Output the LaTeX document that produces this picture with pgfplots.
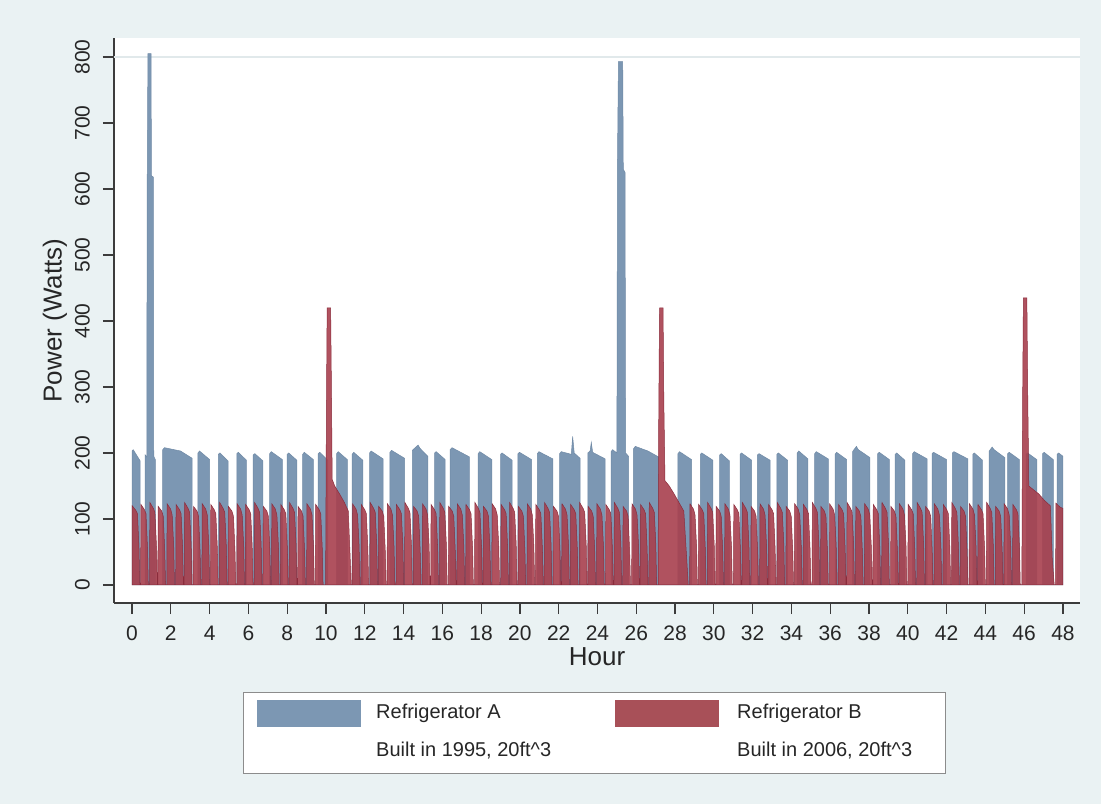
\documentclass[border=0pt]{standalone}
\usepackage{fontspec}
\setmainfont{Liberation Sans}
\usepackage{pgfplots}
\pgfplotsset{compat=1.18}
\definecolor{bgc}{RGB}{234,242,243}
\definecolor{blueA}{RGB}{124,151,179}
\definecolor{blueAe}{RGB}{112,138,166}
\definecolor{redB}{RGB}{168,64,78}
\definecolor{redBe}{RGB}{138,44,60}
\definecolor{redL}{RGB}{168,80,88}
\definecolor{axc}{RGB}{60,60,60}
\definecolor{gridc}{RGB}{225,233,235}
\begin{document}
\begin{tikzpicture}[x=1pt,y=1pt]
\useasboundingbox (0,0) rectangle (1101,804);
\fill[bgc] (0,0) rectangle (1101,804);
\begin{axis}[
  at={(114pt,201pt)}, anchor=south west,
  scale only axis, width=966pt, height=565pt,
  xmin=-0.93, xmax=48.88, ymin=-27.3, ymax=828.8,
  axis background/.style={fill=white},
  axis lines=left, axis line style={-, axc, line width=1.3pt},
  xtick={0,2,...,48}, ytick={0,100,...,800},
  tick align=outside, major tick length=11pt,
  tick style={axc, line width=1.2pt},
  /pgf/number format/assume math mode=true,
  tick label style={font=\fontsize{21}{25}\selectfont, text=black!85, inner sep=0pt},
  xticklabel style={anchor=north, yshift=-12pt},
  yticklabel style={rotate=90, anchor=south},
  yticklabel shift=13pt,
  extra y ticks={800}, extra y tick labels={},
  extra y tick style={grid=major, major grid style={gridc, line width=1.2pt}},
  xlabel={Hour}, ylabel={Power (Watts)},
  label style={font=\fontsize{26}{30}\selectfont, inner sep=0pt, text=black!85},
  xlabel style={at={(axis description cs:0.5,-0.0956)}, anchor=center},
  ylabel style={at={(axis description cs:-0.0611,0.5)}, anchor=center, rotate=0},
  clip=true,
]
% Refrigerator A
\addplot[fill=blueA, draw=blueAe, line width=0.5pt] coordinates {
(0,0)(0,203)(0.06,205)(0.42,188)(0.42,0)
(0.68,0)(0.68,197)(0.76,194)(0.78,600)(0.82,805)(0.98,805)(1.0,620)(1.1,618)(1.12,195)(1.2,190)(1.2,0)
(1.58,0)(1.58,205)(1.68,208)(2.5,203)(3.1,192)(3.1,0)
(3.4,0)(3.4,200)(3.48,203)(4.0,190)(4.0,0)
(4.45,0)(4.45,198)(4.53,200)(4.95,188)(4.95,0)
(5.4,0)(5.4,199)(5.48,201)(5.9,189)(5.9,0)
(6.25,0)(6.25,197)(6.33,199)(6.75,188)(6.75,0)
(7.1,0)(7.1,199)(7.18,202)(7.75,190)(7.75,0)
(8.0,0)(8.0,198)(8.08,200)(8.5,189)(8.5,0)
(8.8,0)(8.8,198)(8.88,201)(9.35,190)(9.35,0)
(9.6,0)(9.6,199)(9.68,201)(10.1,189)(10.1,0)
(10.55,0)(10.55,199)(10.63,202)(11.1,190)(11.1,0)
(11.35,0)(11.35,198)(11.43,201)(11.9,189)(11.9,0)
(12.25,0)(12.25,200)(12.33,203)(12.95,191)(12.95,0)
(13.3,0)(13.3,201)(13.38,204)(14.05,192)(14.05,0)
(14.45,0)(14.45,204)(14.75,212)(14.85,207)(15.25,195)(15.25,0)
(15.6,0)(15.6,200)(15.68,202)(16.15,190)(16.15,0)
(16.4,0)(16.4,205)(16.5,208)(17.4,194)(17.4,0)
(17.85,0)(17.85,199)(17.93,202)(18.55,190)(18.55,0)
(19.0,0)(19.0,198)(19.08,200)(19.6,189)(19.6,0)
(19.9,0)(19.9,199)(19.98,201)(20.6,190)(20.6,0)
(20.9,0)(20.9,199)(20.98,202)(21.7,191)(21.7,0)
(22.05,0)(22.05,199)(22.13,202)(22.65,198)(22.72,225)(22.8,200)(23.1,192)(23.1,0)
(23.5,0)(23.5,200)(23.62,203)(23.68,216)(23.75,201)(24.4,191)(24.4,0)
(24.7,0)(24.7,202)(24.78,205)(25.0,200)(25.03,640)(25.08,793)(25.3,793)(25.33,630)(25.42,625)(25.45,200)(25.6,195)(25.6,0)
(25.85,0)(25.85,206)(25.95,210)(26.6,203)(27.15,194)(27.15,0)
(28.15,0)(28.15,199)(28.23,202)(28.85,190)(28.85,0)
(29.3,0)(29.3,198)(29.38,200)(29.95,189)(29.95,0)
(30.3,0)(30.3,197)(30.38,199)(30.8,188)(30.8,0)
(31.35,0)(31.35,198)(31.43,200)(31.95,189)(31.95,0)
(32.25,0)(32.25,197)(32.33,199)(32.9,189)(32.9,0)
(33.25,0)(33.25,198)(33.33,200)(33.8,189)(33.8,0)
(34.3,0)(34.3,200)(34.38,203)(34.85,191)(34.85,0)
(35.2,0)(35.2,199)(35.28,202)(35.9,191)(35.9,0)
(36.25,0)(36.25,198)(36.33,201)(36.85,190)(36.85,0)
(37.15,0)(37.15,202)(37.35,210)(37.45,205)(38.05,193)(38.05,0)
(38.45,0)(38.45,199)(38.53,201)(39.05,190)(39.05,0)
(39.35,0)(39.35,198)(39.43,200)(39.85,189)(39.85,0)
(40.25,0)(40.25,199)(40.33,202)(41.0,191)(41.0,0)
(41.25,0)(41.25,199)(41.33,201)(42.0,190)(42.0,0)
(42.3,0)(42.3,200)(42.38,202)(43.1,191)(43.1,0)
(43.35,0)(43.35,198)(43.43,200)(43.85,189)(43.85,0)
(44.2,0)(44.2,203)(44.35,209)(44.45,205)(45.0,193)(45.0,0)
(45.15,0)(45.15,199)(45.23,201)(45.75,190)(45.75,0)
(46.1,0)(46.1,198)(46.18,200)(46.65,190)(46.65,0)
(46.95,0)(46.95,199)(47.03,201)(47.5,190)(47.5,0)
(47.7,0)(47.7,198)(47.78,200)(48,195)(48,0)
} \closedcycle;
% Refrigerator B
\addplot[fill=redB, draw=redBe, fill opacity=0.9, line width=0.5pt] coordinates {
(0,0)(0.01,120)(0.20,113)(0.28,108)(0.36,55)(0.40,0)
(0.44,0)(0.46,122)(0.64,114)(0.72,108)(0.80,55)(0.84,0)
(0.90,0)(0.92,125)(1.10,116)(1.18,110)(1.26,60)(1.30,0)
(1.33,0)(1.35,119)(1.53,112)(1.61,104)(1.69,50)(1.73,0)
(1.79,0)(1.81,123)(1.99,115)(2.07,106)(2.15,58)(2.19,0)
(2.25,0)(2.27,122)(2.45,114)(2.53,108)(2.61,55)(2.65,0)
(2.69,0)(2.71,125)(2.89,116)(2.97,110)(3.05,60)(3.09,0)
(3.15,0)(3.17,119)(3.35,112)(3.43,104)(3.51,50)(3.55,0)
(3.60,0)(3.62,123)(3.80,115)(3.88,106)(3.96,58)(4.00,0)
(4.04,0)(4.06,122)(4.24,114)(4.32,108)(4.40,55)(4.44,0)
(4.50,0)(4.52,125)(4.70,116)(4.78,110)(4.86,60)(4.90,0)
(4.95,0)(4.97,119)(5.15,112)(5.23,104)(5.31,50)(5.35,0)
(5.40,0)(5.42,123)(5.60,115)(5.68,106)(5.76,58)(5.80,0)
(5.84,0)(5.86,122)(6.04,114)(6.12,108)(6.20,55)(6.24,0)
(6.30,0)(6.32,125)(6.50,116)(6.58,110)(6.66,60)(6.70,0)
(6.75,0)(6.77,119)(6.95,112)(7.03,104)(7.11,50)(7.15,0)
(7.19,0)(7.21,123)(7.39,115)(7.47,106)(7.55,58)(7.59,0)
(7.65,0)(7.67,122)(7.85,114)(7.93,108)(8.01,55)(8.05,0)
(8.10,0)(8.12,125)(8.30,116)(8.38,110)(8.46,60)(8.50,0)
(8.54,0)(8.56,119)(8.74,112)(8.82,104)(8.90,50)(8.94,0)
(9.00,0)(9.02,123)(9.20,115)(9.28,106)(9.36,58)(9.40,0)
(9.45,0)(9.47,122)(9.65,114)(9.73,108)(9.81,55)(9.85,0)
(9.98,0)(10.02,250)(10.06,420)(10.24,420)(10.28,300)(10.32,160)(10.45,150)(10.7,138)(10.95,125)(11.15,112)(11.25,40)(11.3,0)
(11.35,0)(11.37,123)(11.55,115)(11.63,106)(11.71,58)(11.75,0)
(11.80,0)(11.82,122)(12.00,114)(12.08,108)(12.16,55)(12.20,0)
(12.26,0)(12.28,125)(12.46,116)(12.54,110)(12.62,60)(12.66,0)
(12.70,0)(12.72,119)(12.90,112)(12.98,104)(13.06,50)(13.10,0)
(13.15,0)(13.17,123)(13.35,115)(13.43,106)(13.51,58)(13.55,0)
(13.61,0)(13.63,122)(13.81,114)(13.89,108)(13.97,55)(14.01,0)
(14.05,0)(14.07,125)(14.25,116)(14.33,110)(14.41,60)(14.45,0)
(14.50,0)(14.52,119)(14.70,112)(14.78,104)(14.86,50)(14.90,0)
(14.96,0)(14.98,123)(15.16,115)(15.24,106)(15.32,58)(15.36,0)
(15.40,0)(15.42,122)(15.60,114)(15.68,108)(15.76,55)(15.80,0)
(15.85,0)(15.87,125)(16.05,116)(16.13,110)(16.21,60)(16.25,0)
(16.31,0)(16.33,119)(16.51,112)(16.59,104)(16.67,50)(16.71,0)
(16.75,0)(16.77,123)(16.95,115)(17.03,106)(17.11,58)(17.15,0)
(17.20,0)(17.22,122)(17.40,114)(17.48,108)(17.56,55)(17.60,0)
(17.66,0)(17.68,125)(17.86,116)(17.94,110)(18.02,60)(18.06,0)
(18.10,0)(18.12,119)(18.30,112)(18.38,104)(18.46,50)(18.50,0)
(18.55,0)(18.57,123)(18.75,115)(18.83,106)(18.91,58)(18.95,0)
(19.01,0)(19.03,122)(19.21,114)(19.29,108)(19.37,55)(19.41,0)
(19.45,0)(19.47,125)(19.65,116)(19.73,110)(19.81,60)(19.85,0)
(19.90,0)(19.92,119)(20.10,112)(20.18,104)(20.26,50)(20.30,0)
(20.36,0)(20.38,123)(20.56,115)(20.64,106)(20.72,58)(20.76,0)
(20.80,0)(20.82,122)(21.00,114)(21.08,108)(21.16,55)(21.20,0)
(21.25,0)(21.27,125)(21.45,116)(21.53,110)(21.61,60)(21.65,0)
(21.71,0)(21.73,119)(21.91,112)(21.99,104)(22.07,50)(22.11,0)
(22.15,0)(22.17,123)(22.35,115)(22.43,106)(22.51,58)(22.55,0)
(22.60,0)(22.62,122)(22.80,114)(22.88,108)(22.96,55)(23.00,0)
(23.06,0)(23.08,125)(23.26,116)(23.34,110)(23.42,60)(23.46,0)
(23.50,0)(23.52,119)(23.70,112)(23.78,104)(23.86,50)(23.90,0)
(23.95,0)(23.97,123)(24.15,115)(24.23,106)(24.31,58)(24.35,0)
(24.41,0)(24.43,122)(24.61,114)(24.69,108)(24.77,55)(24.81,0)
(24.85,0)(24.87,125)(25.05,116)(25.13,110)(25.21,60)(25.25,0)
(25.30,0)(25.32,119)(25.50,112)(25.58,104)(25.66,50)(25.70,0)
(25.76,0)(25.78,123)(25.96,115)(26.04,106)(26.12,58)(26.16,0)
(26.20,0)(26.22,122)(26.40,114)(26.48,108)(26.56,55)(26.60,0)
(26.65,0)(26.67,125)(26.85,116)(26.93,110)(27.01,60)(27.05,0)
(27.12,0)(27.16,260)(27.2,420)(27.38,420)(27.42,280)(27.48,158)(27.7,150)(27.95,138)(28.2,125)(28.45,112)(28.6,40)(28.68,0)
(28.75,0)(28.77,123)(28.95,115)(29.03,106)(29.11,58)(29.15,0)
(29.20,0)(29.22,122)(29.40,114)(29.48,108)(29.56,55)(29.60,0)
(29.66,0)(29.68,125)(29.86,116)(29.94,110)(30.02,60)(30.06,0)
(30.10,0)(30.12,119)(30.30,112)(30.38,104)(30.46,50)(30.50,0)
(30.55,0)(30.57,123)(30.75,115)(30.83,106)(30.91,58)(30.95,0)
(31.01,0)(31.03,122)(31.21,114)(31.29,108)(31.37,55)(31.41,0)
(31.45,0)(31.47,125)(31.65,116)(31.73,110)(31.81,60)(31.85,0)
(31.90,0)(31.92,119)(32.10,112)(32.18,104)(32.26,50)(32.30,0)
(32.36,0)(32.38,123)(32.56,115)(32.64,106)(32.72,58)(32.76,0)
(32.80,0)(32.82,122)(33.00,114)(33.08,108)(33.16,55)(33.20,0)
(33.25,0)(33.27,125)(33.45,116)(33.53,110)(33.61,60)(33.65,0)
(33.71,0)(33.73,119)(33.91,112)(33.99,104)(34.07,50)(34.11,0)
(34.15,0)(34.17,123)(34.35,115)(34.43,106)(34.51,58)(34.55,0)
(34.60,0)(34.62,122)(34.80,114)(34.88,108)(34.96,55)(35.00,0)
(35.06,0)(35.08,125)(35.26,116)(35.34,110)(35.42,60)(35.46,0)
(35.50,0)(35.52,119)(35.70,112)(35.78,104)(35.86,50)(35.90,0)
(35.95,0)(35.97,123)(36.15,115)(36.23,106)(36.31,58)(36.35,0)
(36.41,0)(36.43,122)(36.61,114)(36.69,108)(36.77,55)(36.81,0)
(36.85,0)(36.87,125)(37.05,116)(37.13,110)(37.21,60)(37.25,0)
(37.30,0)(37.32,119)(37.50,112)(37.58,104)(37.66,50)(37.70,0)
(37.76,0)(37.78,123)(37.96,115)(38.04,106)(38.12,58)(38.16,0)
(38.20,0)(38.22,122)(38.40,114)(38.48,108)(38.56,55)(38.60,0)
(38.65,0)(38.67,125)(38.85,116)(38.93,110)(39.01,60)(39.05,0)
(39.11,0)(39.13,119)(39.31,112)(39.39,104)(39.47,50)(39.51,0)
(39.55,0)(39.57,123)(39.75,115)(39.83,106)(39.91,58)(39.95,0)
(40.00,0)(40.02,122)(40.20,114)(40.28,108)(40.36,55)(40.40,0)
(40.46,0)(40.48,125)(40.66,116)(40.74,110)(40.82,60)(40.86,0)
(40.90,0)(40.92,119)(41.10,112)(41.18,104)(41.26,50)(41.30,0)
(41.35,0)(41.37,123)(41.55,115)(41.63,106)(41.71,58)(41.75,0)
(41.81,0)(41.83,122)(42.01,114)(42.09,108)(42.17,55)(42.21,0)
(42.25,0)(42.27,125)(42.45,116)(42.53,110)(42.61,60)(42.65,0)
(42.70,0)(42.72,119)(42.90,112)(42.98,104)(43.06,50)(43.10,0)
(43.16,0)(43.18,123)(43.36,115)(43.44,106)(43.52,58)(43.56,0)
(43.60,0)(43.62,122)(43.80,114)(43.88,108)(43.96,55)(44.00,0)
(44.05,0)(44.07,125)(44.25,116)(44.33,110)(44.41,60)(44.45,0)
(44.51,0)(44.53,119)(44.71,112)(44.79,104)(44.87,50)(44.91,0)
(44.95,0)(44.97,123)(45.15,115)(45.23,106)(45.31,58)(45.35,0)
(45.40,0)(45.42,122)(45.60,114)(45.68,108)(45.76,55)(45.80,0)
(45.88,0)(45.92,270)(45.96,435)(46.14,435)(46.18,300)(46.24,150)(46.45,145)(46.75,138)(47.05,128)(47.35,120)(47.45,40)(47.55,0)
(47.62,0)(47.64,124)(47.85,118)(48,116)(48,0)
} \closedcycle;
\end{axis}
% legend
\draw[fill=white, draw=black!45, line width=1pt] (243,31) rectangle (945,112);
\fill[blueA] (257,77) rectangle (361,104);
\fill[redL] (615,77) rectangle (719,104);
\begin{scope}[every node/.style={anchor=west, inner sep=0pt, font=\fontsize{20}{24}\selectfont, text=black!85}]
\node at (376,91) {Refrigerator A};
\node at (376,53) {Built in 1995, 20ft\textasciicircum 3};
\node at (737,91) {Refrigerator B};
\node at (737,53) {Built in 2006, 20ft\textasciicircum 3};
\end{scope}
\end{tikzpicture}
\end{document}
